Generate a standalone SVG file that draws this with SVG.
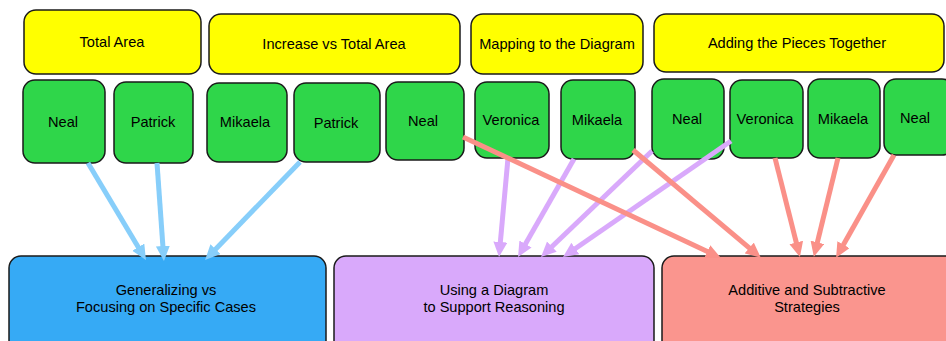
<svg xmlns="http://www.w3.org/2000/svg" width="946" height="341" viewBox="0 0 946 341">
<style>
text{font-family:"Liberation Sans",Arial,sans-serif;font-size:14.6px;fill:#000;text-anchor:middle;dominant-baseline:central}
.y{fill:#FFFF00;stroke:#1a1a1a;stroke-width:1.5}
.g{fill:#2FD64A;stroke:#1a1a1a;stroke-width:1.5}
.b{fill:#36AAF5;stroke:#1a1a1a;stroke-width:1.5}
.p{fill:#D9A9FB;stroke:#1a1a1a;stroke-width:1.5}
.r{fill:#FA958E;stroke:#1a1a1a;stroke-width:1.5}
.cb{stroke:#87CEFA;stroke-width:5;fill:none;marker-end:url(#mb)}
.cp{stroke:#D9A9FB;stroke-width:5;fill:none;marker-end:url(#mp)}
.cr{stroke:#FA9088;stroke-width:5;fill:none;marker-end:url(#mr)}
</style>
<defs>
<marker id="mb" markerUnits="userSpaceOnUse" markerWidth="17" markerHeight="15" refX="3" refY="7" orient="auto"><path d="M0,0 L15,7 L0,14 z" fill="#87CEFA"/></marker>
<marker id="mp" markerUnits="userSpaceOnUse" markerWidth="17" markerHeight="15" refX="3" refY="7" orient="auto"><path d="M0,0 L15,7 L0,14 z" fill="#D9A9FB"/></marker>
<marker id="mr" markerUnits="userSpaceOnUse" markerWidth="17" markerHeight="15" refX="3" refY="7" orient="auto"><path d="M0,0 L15,7 L0,14 z" fill="#FA9088"/></marker>
</defs>
<rect width="946" height="341" fill="#fff"/>
<g id="h-total-area"><rect class="y" x="24" y="10" width="177" height="64" rx="12"/><text x="112" y="42">Total Area</text></g>
<g id="h-increase"><rect class="y" x="209" y="14" width="251" height="60" rx="12"/><text x="334" y="44">Increase vs Total Area</text></g>
<g id="h-mapping"><rect class="y" x="471" y="14" width="172" height="60" rx="12"/><text x="557" y="44">Mapping to the Diagram</text></g>
<g id="h-adding"><rect class="y" x="654" y="14" width="290" height="58" rx="12"/><text x="797" y="43">Adding the Pieces Together</text></g>

<g id="n-neal1"><rect class="g" x="23" y="80" width="82" height="83" rx="12"/><text x="63" y="122">Neal</text></g>
<g id="n-patrick1"><rect class="g" x="114" y="82" width="79" height="81" rx="12"/><text x="153" y="122">Patrick</text></g>
<g id="n-mikaela1"><rect class="g" x="207" y="83" width="80" height="79" rx="12"/><text x="245" y="122">Mikaela</text></g>
<g id="n-patrick2"><rect class="g" x="294" y="83" width="86" height="79" rx="12"/><text x="336" y="123">Patrick</text></g>
<g id="n-neal2"><rect class="g" x="386" y="82" width="78" height="78" rx="12"/><text x="423" y="121">Neal</text></g>
<g id="n-veronica1"><rect class="g" x="475" y="82" width="74" height="76" rx="12"/><text x="511" y="120">Veronica</text></g>
<g id="n-mikaela2"><rect class="g" x="561" y="80" width="74" height="79" rx="12"/><text x="597" y="120">Mikaela</text></g>
<g id="n-neal3"><rect class="g" x="652" y="79" width="72" height="80" rx="12"/><text x="687" y="119">Neal</text></g>
<g id="n-veronica2"><rect class="g" x="730" y="80" width="73" height="78" rx="12"/><text x="765" y="119">Veronica</text></g>
<g id="n-mikaela3"><rect class="g" x="808" y="79" width="72" height="79" rx="12"/><text x="843" y="119">Mikaela</text></g>
<g id="n-neal4"><rect class="g" x="884" y="79" width="70" height="76" rx="12"/><text x="915" y="118">Neal</text></g>

<g id="c-generalizing"><rect class="b" x="9" y="256" width="317" height="100" rx="12"/><text x="166" y="290">Generalizing vs</text><text x="166" y="307">Focusing on Specific Cases</text></g>
<g id="c-diagram"><rect class="p" x="334" y="256" width="320" height="100" rx="12"/><text x="494" y="290">Using a Diagram</text><text x="494" y="307">to Support Reasoning</text></g>
<g id="c-additive"><rect class="r" x="662" y="256" width="300" height="100" rx="12"/><text x="807" y="290">Additive and Subtractive</text><text x="807" y="307">Strategies</text></g>

<g id="connectors">
<line class="cb" x1="88" y1="163" x2="139.8" y2="249.7"/>
<line class="cb" x1="157" y1="163" x2="163.1" y2="249"/>
<line class="cb" x1="300" y1="162" x2="213.4" y2="251.4"/>
<line class="cp" x1="508" y1="158" x2="500.1" y2="245"/>
<line class="cp" x1="574" y1="159" x2="524" y2="246.6"/>
<line class="cp" x1="652" y1="151" x2="549.7" y2="248.7"/>
<line class="cp" x1="731" y1="141" x2="572.9" y2="250.2"/>
<line class="cr" x1="463" y1="137" x2="710" y2="252.8"/>
<line class="cr" x1="633" y1="150" x2="751.6" y2="249.9"/>
<line class="cr" x1="775" y1="158" x2="797" y2="245.4"/>
<line class="cr" x1="838" y1="158" x2="816.7" y2="245.2"/>
<line class="cr" x1="894" y1="155" x2="842" y2="247.3"/>
</g>
</svg>
